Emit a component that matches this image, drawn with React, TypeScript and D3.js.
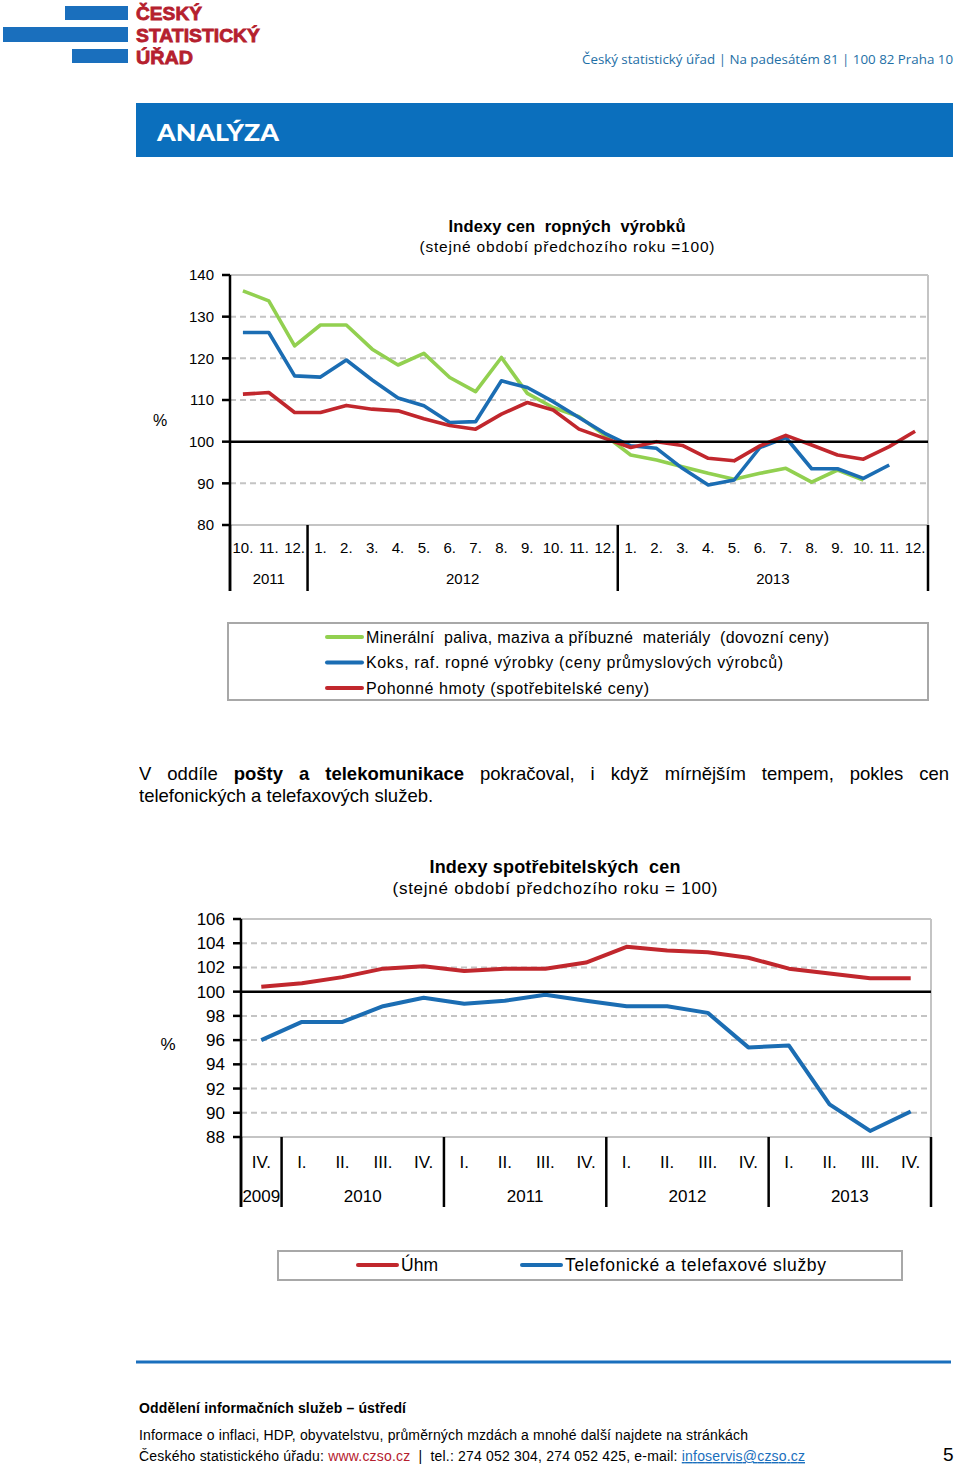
import React from "react";
import * as d3 from "d3";

// ---------- Chart 1 data: Indexy cen ropných výrobků ----------
const months1 = ["10.","11.","12.","1.","2.","3.","4.","5.","6.","7.","8.","9.","10.","11.","12.","1.","2.","3.","4.","5.","6.","7.","8.","9.","10.","11.","12."];
const years1 = ["2011", "2012", "2013"];
const yearCounts1 = [3, 12, 12];
const ticks1 = [80, 90, 100, 110, 120, 130, 140];
const mineralni = [136.2,133.8,123.0,128.0,128.0,122.2,118.4,121.2,115.4,112.0,120.2,111.6,108.2,106.0,101.5,96.8,95.6,94.0,92.4,91.0,92.4,93.6,90.3,93.2,90.8,null,null];
const koks = [126.2,126.2,115.8,115.5,119.6,114.8,110.5,108.6,104.6,104.8,114.6,113.0,109.6,105.8,102.0,99.0,98.4,93.6,89.6,90.8,98.6,101.0,93.5,93.5,91.2,94.4,null];
const pohonne = [111.4,111.8,107.0,107.0,108.7,107.8,107.4,105.5,103.9,103.0,106.6,109.4,107.6,103.0,100.8,98.6,100.0,99.1,96.0,95.4,99.0,101.5,99.2,96.8,95.8,98.8,102.5];
const legend1 = ["Minerální  paliva, maziva a příbuzné  materiály  (dovozní ceny)", "Koks, raf. ropné výrobky (ceny průmyslových výrobců)", "Pohonné hmoty (spotřebitelské ceny)"];

// ---------- Chart 2 data: Indexy spotřebitelských cen ----------
const quarters2 = ["IV.","I.","II.","III.","IV.","I.","II.","III.","IV.","I.","II.","III.","IV.","I.","II.","III.","IV."];
const years2 = ["2009", "2010", "2011", "2012", "2013"];
const yearCounts2 = [1, 4, 4, 4, 4];
const ticks2 = [88, 90, 92, 94, 96, 98, 100, 102, 104, 106];
const uhrn = [100.4,100.7,101.2,101.9,102.1,101.7,101.9,101.9,102.4,103.7,103.4,103.25,102.8,101.9,101.5,101.1,101.1];
const telefon = [96.0,97.5,97.5,98.8,99.5,99.0,99.25,99.75,99.25,98.8,98.8,98.25,95.4,95.55,90.7,88.5,90.1];
const legend2 = ["Úhm", "Telefonické a telefaxové služby"];

const GREEN = "#92d050";
const BLUE = "#1b6db3";
const RED = "#c1272d";
const GRID = "#c4c4c4";
const FONT = "'Liberation Sans', Arial, sans-serif";

type Series = (number | null)[];

function groupBounds(counts: number[]) {
  const b = [0];
  counts.forEach((c) => b.push(b[b.length - 1] + c));
  return b;
}

function LineChart(props: {
  cats: string[]; years: string[]; counts: number[]; ticks: number[];
  series: { values: Series; color: string }[];
  left: number; right: number; top: number; bottom: number;
  sepBottom: number; catY: number; yearY: number; tickFont: number; catFont: number;
  tickLabelX: number; lw: number;
}) {
  const { cats, years, counts, ticks, series, left, right, top, bottom } = props;
  const x = d3.scaleBand<number>().domain(d3.range(cats.length)).range([left, right]);
  const y = d3.scaleLinear().domain([ticks[0], ticks[ticks.length - 1]]).range([bottom, top]);
  const line = d3.line<number | null>()
    .defined((d) => d !== null)
    .x((_, i) => (x(i) as number) + x.bandwidth() / 2)
    .y((d) => y(d as number));
  const bounds = groupBounds(counts);
  const bx = (k: number) => left + k * x.bandwidth();
  const tMin = ticks[0], tMax = ticks[ticks.length - 1];
  return (
    <g>
      {ticks.map((t) => {
        const solidGrey = t === tMin || t === tMax;
        if (t === 100) return null;
        return (
          <line key={"g" + t} x1={left} x2={right} y1={y(t)} y2={y(t)}
            stroke={GRID} strokeWidth={2} strokeDasharray={solidGrey ? undefined : "6,4"} />
        );
      })}
      <line x1={right} x2={right} y1={top} y2={bottom} stroke={GRID} strokeWidth={2} />
      {ticks.map((t) => (
        <g key={"t" + t}>
          <line x1={left - 8} x2={left} y1={y(t)} y2={y(t)} stroke="#000" strokeWidth={2.5} />
          <text x={props.tickLabelX} y={y(t)} dy="0.35em" textAnchor="end" fontSize={props.tickFont} fontFamily={FONT}>{t}</text>
        </g>
      ))}
      {series.map((s, i) => (
        <path key={"s" + i} d={line(s.values) || ""} fill="none" stroke={s.color} strokeWidth={props.lw} strokeLinejoin="round" />
      ))}
      <line x1={left} x2={right} y1={y(100)} y2={y(100)} stroke="#000" strokeWidth={2.5} />
      <line x1={left} x2={left} y1={top} y2={props.sepBottom} stroke="#000" strokeWidth={2.5} />
      {bounds.map((k, i) => (
        <line key={"sep" + i} x1={bx(k)} x2={bx(k)} y1={bottom} y2={props.sepBottom} stroke="#000" strokeWidth={2.5} />
      ))}
      {cats.map((c, i) => (
        <text key={"c" + i} x={(x(i) as number) + x.bandwidth() / 2} y={props.catY} textAnchor="middle" fontSize={props.catFont} fontFamily={FONT}>{c}</text>
      ))}
      {years.map((yr, i) => (
        <text key={"y" + i} x={(bx(bounds[i]) + bx(bounds[i + 1])) / 2} y={props.yearY} textAnchor="middle" fontSize={props.catFont} fontFamily={FONT}>{yr}</text>
      ))}
    </g>
  );
}

export default function App() {
  const colors1 = [GREEN, BLUE, RED];
  const colors2 = [RED, BLUE];
  const legend1Len = [463, 417, 283];
  const legend2Len = [37, 261];
  return (
    <svg width={960} height={1465} viewBox="0 0 960 1465" style={{ position: "absolute", left: 0, top: 0, background: "#fff" }}>
      {/* Header logo */}
      <rect x={65} y={6} width={63} height={14} fill="#1a6fbd" />
      <rect x={3} y={27} width={125} height={15} fill="#1a6fbd" />
      <rect x={72} y={49} width={56} height={14} fill="#1a6fbd" />
      <g fill="#b5202e" fontFamily="'Liberation Sans', Arial, sans-serif" fontWeight="bold" fontSize={19} stroke="#b5202e" strokeWidth={0.8}>
        <text x={136} y={20} textLength={66} lengthAdjust="spacingAndGlyphs">ČESKÝ</text>
        <text x={136} y={42} textLength={124} lengthAdjust="spacingAndGlyphs">STATISTICKÝ</text>
        <text x={136} y={64} textLength={57} lengthAdjust="spacingAndGlyphs">ÚŘAD</text>
      </g>
      <text x={582} y={64} fontSize={13.5} fill="#1e6fa6" fontFamily="'Open Sans', sans-serif" textLength={371} lengthAdjust="spacingAndGlyphs">Český statistický úřad | Na padesátém 81 | 100 82  Praha 10</text>
      <rect x={136} y={103} width={817} height={54} fill="#0b6fbd" />
      <text x={157} y={141} fontSize={23} fill="#fff" fontWeight={900} fontFamily="Lato, 'Open Sans', sans-serif" textLength={122} lengthAdjust="spacingAndGlyphs">ANALÝZA</text>

      {/* Chart 1 */}
      <text x={567} y={232} textAnchor="middle" fontSize={16.5} fontWeight="bold" fontFamily={FONT} textLength={237} style={{ whiteSpace: "pre" }}>Indexy cen  ropných  výrobků</text>
      <text x={567} y={252} textAnchor="middle" fontSize={15.5} fontFamily={FONT} textLength={295}>(stejné období předchozího roku =100)</text>
      <text x={160} y={420} dy="0.35em" textAnchor="middle" fontSize={16} fontFamily={FONT}>%</text>
      <LineChart cats={months1} years={years1} counts={yearCounts1} ticks={ticks1}
        series={[mineralni, koks, pohonne].map((v, i) => ({ values: v, color: colors1[i] }))}
        left={230} right={928} top={275} bottom={525} sepBottom={591}
        catY={553} yearY={584} tickFont={15} catFont={15} tickLabelX={214} lw={3.6} />
      <rect x={228} y={623} width={700} height={77} fill="#fff" stroke="#a8a8a8" strokeWidth={2} />
      {legend1.map((l, i) => (
        <g key={"l1" + i}>
          <line x1={327} x2={362} y1={637 + i * 25.5} y2={637 + i * 25.5} stroke={colors1[i]} strokeWidth={4} strokeLinecap="round" />
          <text x={366} y={637 + i * 25.5} dy="0.35em" fontSize={16} fontFamily={FONT} textLength={legend1Len[i]} style={{ whiteSpace: "pre" }}>{l}</text>
        </g>
      ))}

      {/* Paragraph */}
      <foreignObject x={139} y={763} width={810} height={50}>
        <div style={{ fontFamily: FONT, fontSize: "18.5px", lineHeight: "22px", color: "#000" }}>
          <div style={{ textAlign: "justify", textAlignLast: "justify", whiteSpace: "nowrap" } as React.CSSProperties}>
            V oddíle <b>pošty</b> <b>a</b> <b>telekomunikace</b> pokračoval, i když mírnějším tempem, pokles cen
          </div>
          <div>telefonických a telefaxových služeb.</div>
        </div>
      </foreignObject>

      {/* Chart 2 */}
      <text x={555} y={873} textAnchor="middle" fontSize={18} fontWeight="bold" fontFamily={FONT} textLength={251} style={{ whiteSpace: "pre" }}>Indexy spotřebitelských  cen</text>
      <text x={555} y={894} textAnchor="middle" fontSize={17} fontFamily={FONT} textLength={325}>(stejné období předchozího roku = 100)</text>
      <text x={168} y={1044} dy="0.35em" textAnchor="middle" fontSize={17} fontFamily={FONT}>%</text>
      <LineChart cats={quarters2} years={years2} counts={yearCounts2} ticks={ticks2}
        series={[uhrn, telefon].map((v, i) => ({ values: v, color: colors2[i] }))}
        left={241} right={931} top={919} bottom={1137} sepBottom={1207}
        catY={1168} yearY={1202} tickFont={17} catFont={17} tickLabelX={225} lw={4} />
      <rect x={278} y={1251} width={624} height={29} fill="#fff" stroke="#a8a8a8" strokeWidth={2} />
      {legend2.map((l, i) => {
        const lx = [358, 522][i];
        return (
          <g key={"l2" + i}>
            <line x1={lx} x2={lx + 39} y1={1265} y2={1265} stroke={colors2[i]} strokeWidth={4} strokeLinecap="round" />
            <text x={lx + 43} y={1265} dy="0.35em" fontSize={17.5} fontFamily={FONT} textLength={legend2Len[i]}>{l}</text>
          </g>
        );
      })}

      {/* Footer */}
      <line x1={136} x2={951} y1={1362} y2={1362} stroke="#1a6fbd" strokeWidth={3} />
      <text x={139} y={1413} fontSize={14} fontWeight="bold" fontFamily={FONT} textLength={267}>Oddělení informačních služeb – ústředí</text>
      <text x={139} y={1440} fontSize={14} fontFamily={FONT} textLength={609}>Informace o inflaci, HDP, obyvatelstvu, průměrných mzdách a mnohé další najdete na stránkách</text>
      <text x={139} y={1461} fontSize={14} fontFamily={FONT} textLength={666} style={{ whiteSpace: "pre" }}>
        Českého statistického úřadu: <tspan fill="#b5202e">www.czso.cz</tspan>  |  tel.: 274 052 304, 274 052 425, e-mail: <tspan fill="#1a6fbd" style={{ textDecoration: "underline" }}>infoservis@czso.cz</tspan>
      </text>
      <text x={943} y={1461} fontSize={19} fontFamily={FONT}>5</text>
    </svg>
  );
}
